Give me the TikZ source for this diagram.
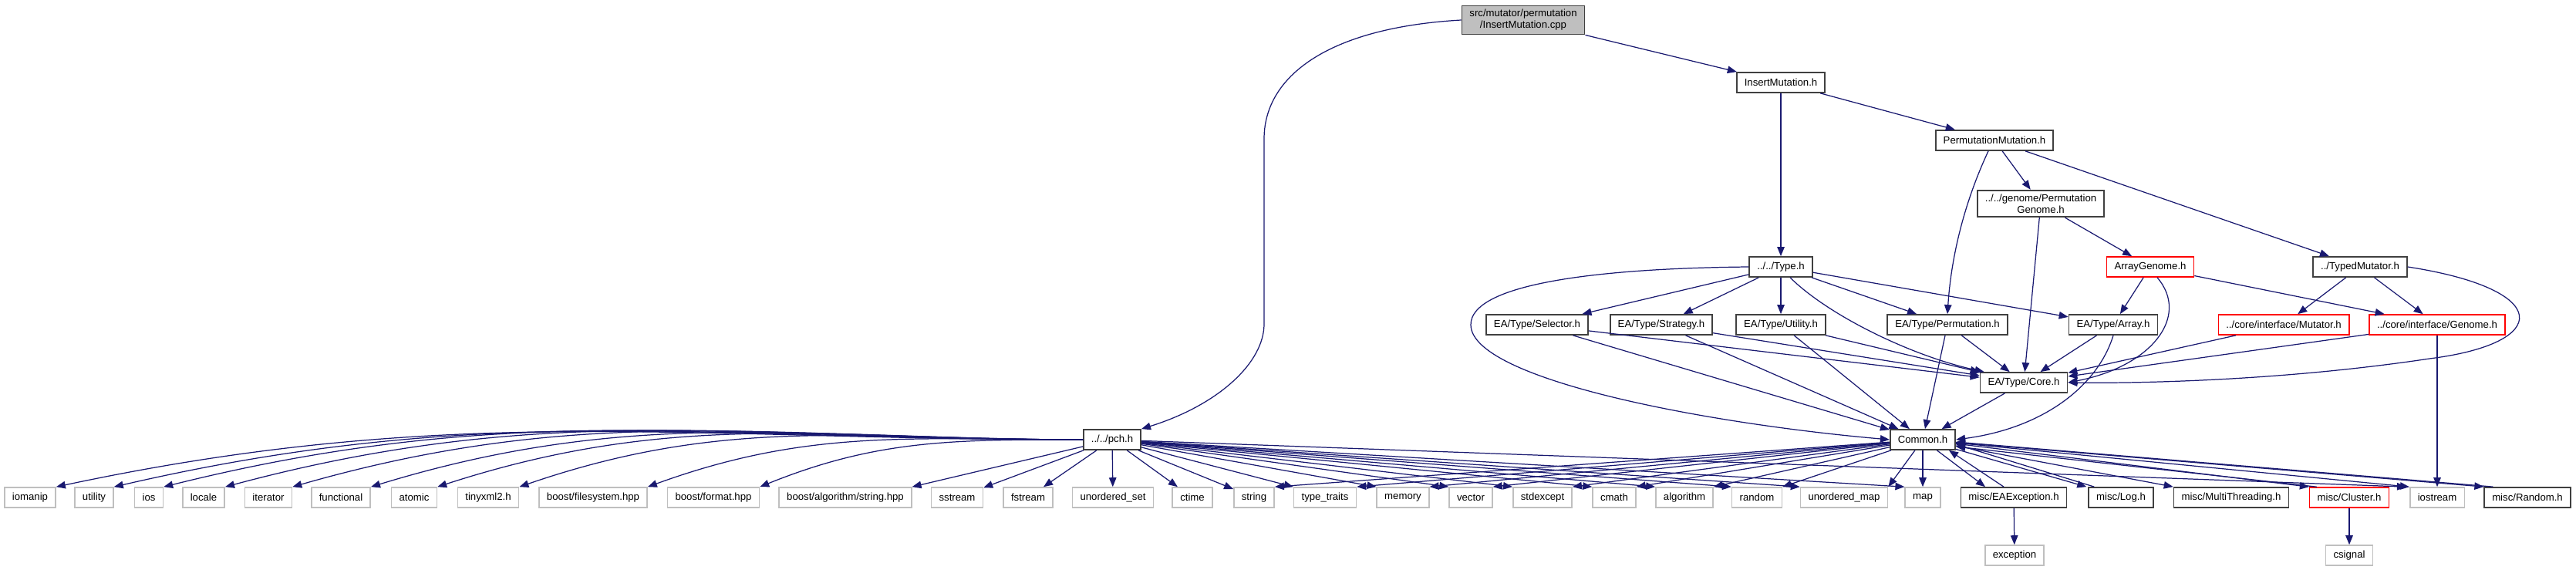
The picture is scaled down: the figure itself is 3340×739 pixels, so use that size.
\documentclass[tikz,border=0pt]{standalone}
\usepackage{fontspec}
\setmainfont{Liberation Sans}
\usepackage{tikz}
\usetikzlibrary{arrows.meta,calc}
\definecolor{edgeblue}{HTML}{191970}
\definecolor{extgray}{HTML}{BFBFBF}

\begin{document}
\begin{tikzpicture}[x=0.02cm,y=-0.02cm,
  every node/.style={font=\fontsize{7.5}{8.5}\selectfont,inner xsep=0.2cm,inner ysep=0.1cm,minimum height=0.52cm,align=center},
  hdr/.style={draw=black!75,line width=1pt,fill=white},
  ext/.style={draw=extgray,line width=0.9pt,fill=white},
  trunc/.style={draw=red,line width=0.9pt,fill=white},
  edge/.style={draw=edgeblue,line width=0.7pt,-{Triangle[length=0.24cm,width=0.19cm]}}]
\useasboundingbox (0,0) rectangle (3340,739);
% upper part
\node[hdr,fill=extgray] (cpp) at (1975,26) {src/mutator/permutation\\/InsertMutation.cpp};
\node[hdr] (insmut) at (2309,107) {InsertMutation.h};
\node[hdr] (permmut) at (2586,182) {PermutationMutation.h};
\node[hdr] (pgenome) at (2646,264) {../../genome/Permutation\\Genome.h};
\node[hdr] (typeh) at (2309,346) {../../Type.h};
\node[trunc] (arrgen) at (2788,346) {ArrayGenome.h};
\node[hdr] (typedmut) at (3060,346) {../TypedMutator.h};
\node[hdr] (selector) at (1993,421) {EA/Type/Selector.h};
\node[hdr] (strategy) at (2154,421) {EA/Type/Strategy.h};
\node[hdr] (eautil) at (2309,421) {EA/Type/Utility.h};
\node[hdr] (permh) at (2525,421) {EA/Type/Permutation.h};
\node[hdr] (arrayh) at (2740,421) {EA/Type/Array.h};
\node[trunc] (mutif) at (2961,421) {../core/interface/Mutator.h};
\node[trunc] (genif) at (3160,421) {../core/interface/Genome.h};
\node[hdr] (core) at (2624,496) {EA/Type/Core.h};
\node[hdr] (common) at (2493,570) {Common.h};
\node[hdr] (pch) at (1442,570) {../../pch.h};
% bottom row
\node[ext] (iomanip) at (39,645) {iomanip};
\node[ext] (utility) at (122,645) {utility};
\node[ext] (ios) at (193,645) {ios};
\node[ext] (locale) at (264,645) {locale};
\node[ext] (iterator) at (348,645) {iterator};
\node[ext] (functional) at (442,645) {functional};
\node[ext] (atomic) at (537,645) {atomic};
\node[ext] (tinyxml) at (633,645) {tinyxml2.h};
\node[ext] (bfs) at (769,645) {boost/filesystem.hpp};
\node[ext] (bformat) at (925,645) {boost/format.hpp};
\node[ext] (balgo) at (1096,645) {boost/algorithm/string.hpp};
\node[ext] (sstream) at (1241,645) {sstream};
\node[ext] (fstream) at (1333,645) {fstream};
\node[ext] (uset) at (1443,645) {unordered\_set};
\node[ext] (ctime) at (1546,645) {ctime};
\node[ext] (string) at (1626,645) {string};
\node[ext] (typetraits) at (1718,645) {type\_traits};
\node[ext] (memory) at (1819,645) {memory};
\node[ext] (vector) at (1907,645) {vector};
\node[ext] (stdexcept) at (2000,645) {stdexcept};
\node[ext] (cmath) at (2093,645) {cmath};
\node[ext] (algorithm) at (2184,645) {algorithm};
\node[ext] (random) at (2278,645) {random};
\node[ext] (umap) at (2391,645) {unordered\_map};
\node[ext] (map) at (2493,645) {map};
\node[hdr] (eaexc) at (2611,645) {misc/EAException.h};
\node[hdr] (log) at (2750,645) {misc/Log.h};
\node[hdr] (mthread) at (2893,645) {misc/MultiThreading.h};
\node[trunc] (cluster) at (3046,645) {misc/Cluster.h};
\node[ext] (iostream) at (3160,645) {iostream};
\node[hdr] (mrandom) at (3277,645) {misc/Random.h};
\node[ext] (exception) at (2612,720) {exception};
\node[ext] (csignal) at (3046,720) {csignal};
% edges of the upper part
\draw[edge] (cpp) -- (insmut);
\draw[edge] (cpp.west) .. controls (1720,36) and (1639,100) .. (1639,180) -- (1639,420) .. controls (1639,470) and (1580,525) .. (pch.north east);
\draw[edge] (insmut) -- (permmut);
\draw[edge] (insmut) -- (typeh);
\draw[edge] (permmut) -- (pgenome);
\draw[edge] (permmut) -- (typedmut);
\draw[edge] ($(permmut.south)+(-8,0)$) .. controls (2548,260) and (2530,330) .. (permh.north);
\draw[edge] (pgenome) -- (arrgen);
\draw[edge] (pgenome) -- (core);
\draw[edge] (arrgen) -- (arrayh);
\draw[edge] (arrgen) -- (genif);
\draw[edge] ($(arrgen.south)+(9,0)$) .. controls (2840,410) and (2790,475) .. (core.east);
\draw[edge] (typedmut) -- (mutif);
\draw[edge] (typedmut) -- (genif);
\draw[edge] (typedmut.east) .. controls (3310,375) and (3310,445) .. (3150,465) .. controls (2950,495) and (2760,497) .. (core.east);
\draw[edge] (mutif) -- (core);
\draw[edge] (genif) -- (core);
\draw[edge] (genif) -- (iostream);
\draw[edge] (typeh) -- (selector);
\draw[edge] (typeh) -- (strategy);
\draw[edge] (typeh) -- (eautil);
\draw[edge] (typeh) -- (permh);
\draw[edge] ($(typeh.south)+(12,0)$) .. controls (2372,410) and (2480,462) .. ($(core.north west)+(6,0)$);
\draw[edge] (typeh) -- (arrayh);
\draw[edge] (typeh.west) .. controls (2060,348) and (1907,370) .. (1907,421) .. controls (1907,490) and (2200,548) .. (common.west);
\draw[edge] (selector) -- (core);
\draw[edge] (selector) -- (common);
\draw[edge] (strategy) -- (core);
\draw[edge] (strategy) -- (common);
\draw[edge] (eautil) -- (core);
\draw[edge] (eautil) -- (common);
\draw[edge] (permh) -- (core);
\draw[edge] (permh) -- (common);
\draw[edge] (arrayh) -- (core);
\draw[edge] (arrayh.south) .. controls (2720,500) and (2650,555) .. (common.east);
\draw[edge] (core) -- (common);
% edges of pch.h
\draw[edge] (pch.west) to[out=180,in=12] (iomanip.north east);
\draw[edge] (pch.west) to[out=180,in=13] (utility.north east);
\draw[edge] (pch.west) to[out=180,in=14] (ios.north east);
\draw[edge] (pch.west) to[out=180,in=15] (locale.north east);
\draw[edge] (pch.west) to[out=180,in=16] (iterator.north east);
\draw[edge] (pch.west) to[out=180,in=17] (functional.north east);
\draw[edge] (pch.west) to[out=180,in=18] (atomic.north east);
\draw[edge] (pch.west) to[out=180,in=19] (tinyxml.north east);
\draw[edge] (pch.west) to[out=180,in=20] (bfs.north east);
\draw[edge] (pch.west) to[out=180,in=22] (bformat.north east);
\draw[edge] (pch) -- (balgo.north east);
\draw[edge] (pch) -- (sstream);
\draw[edge] (pch) -- (fstream);
\draw[edge] (pch) -- (uset);
\draw[edge] (pch) -- (ctime);
\draw[edge] (pch) -- (string);
\draw[edge] (pch) -- (typetraits.north west);
\draw[edge] (pch) -- (memory.north west);
\draw[edge] (pch) -- (vector.north west);
\draw[edge] (pch) -- (stdexcept.north west);
\draw[edge] (pch) -- (cmath.north west);
\draw[edge] (pch) -- (algorithm.north west);
\draw[edge] (pch) -- (random.north west);
\draw[edge] (pch) -- (umap.north west);
\draw[edge] (pch) -- (map.north west);
\draw[edge] (pch) -- ($(iostream.north west)+(-4,0)$);
% edges of Common.h
\draw[edge] (common) -- (string.north east);
\draw[edge] (common) -- (typetraits.north east);
\draw[edge] (common) -- (memory.north east);
\draw[edge] (common) -- (vector.north east);
\draw[edge] (common) -- (stdexcept.north east);
\draw[edge] (common) -- (cmath.north east);
\draw[edge] (common) -- (algorithm.north east);
\draw[edge] (common) -- (random.north east);
\draw[edge] (common) -- (umap.north east);
\draw[edge] (common) -- (map);
\draw[edge] (common) -- ($(eaexc.north)+(-37,0)$);
\draw[edge] ($(eaexc.north)+(-13,0)$) -- ($(common.south)+(34,0)$);
\draw[edge] (common) -- ($(log.north west)+(-2,0)$);
\draw[edge] ($(log.north west)+(8,0)$) -- ($(common.east)+(0,6)$);
\draw[edge] (common) -- (mthread.north west);
\draw[edge] (common) -- (cluster.north west);
\draw[edge] ($(cluster.north west)+(10,0)$) -- ($(common.east)+(0,9)$);
\draw[edge] (common) -- (iostream.north west);
\draw[edge] (common) -- (mrandom.north west);
\draw[edge] ($(mrandom.north west)+(12,0)$) -- ($(common.east)+(0,3)$);
\draw[edge] (eaexc) -- (exception);
\draw[edge] (cluster) -- (csignal);
\end{tikzpicture}
\end{document}
